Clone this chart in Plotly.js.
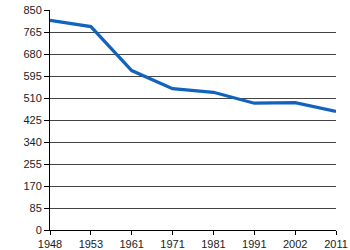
<!DOCTYPE html>
<html>
<head>
<meta charset="utf-8">
<script src="https://cdn.plot.ly/plotly-3.0.1.min.js"></script>
<style>html,body{margin:0;padding:0;background:#fff;}#chart{width:350px;height:250px;}</style>
</head>
<body>
<div id="chart"></div>
<script>
const years = ["1948", "1953", "1961", "1971", "1981", "1991", "2002", "2011"];
const values = [810, 786, 616, 546, 532, 490, 492, 458];
const yTicks = [0, 85, 170, 255, 340, 425, 510, 595, 680, 765, 850];

const trace = {
  x: years,
  y: values,
  type: 'scatter',
  mode: 'lines',
  line: {color: '#1263be', width: 3.2},
  hoverinfo: 'none'
};

const layout = {
  width: 350,
  height: 250,
  margin: {l: 50, r: 14, t: 10, b: 20},
  paper_bgcolor: '#ffffff',
  plot_bgcolor: '#ffffff',
  showlegend: false,
  font: {family: 'Liberation Sans, Arial, sans-serif', size: 11, color: '#222'},
  xaxis: {
    type: 'category',
    range: [0, years.length - 1],
    showgrid: false,
    showline: true,
    linecolor: '#000',
    linewidth: 1,
    ticks: 'outside',
    ticklen: 4,
    tickcolor: '#000',
    tickfont: {size: 11, color: '#222'},
    zeroline: false,
    fixedrange: true
  },
  yaxis: {
    range: [0, 850],
    tickvals: yTicks,
    ticktext: yTicks.map(String),
    showgrid: true,
    gridcolor: '#444',
    gridwidth: 1,
    showline: true,
    linecolor: '#000',
    linewidth: 1,
    ticks: 'outside',
    ticklen: 5,
    tickcolor: '#000',
    tickfont: {size: 11, color: '#222'},
    zeroline: false,
    fixedrange: true
  }
};

Plotly.newPlot('chart', [trace], layout, {displayModeBar: false, staticPlot: true});
</script>
</body>
</html>
